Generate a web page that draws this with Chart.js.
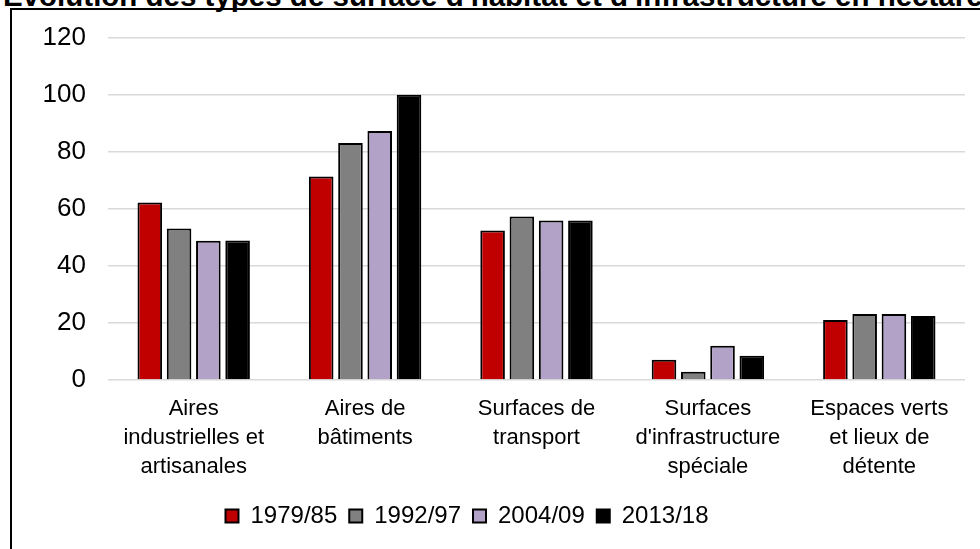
<!DOCTYPE html>
<html>
<head>
<meta charset="utf-8">
<script src="https://cdn.jsdelivr.net/npm/chart.js@4/dist/chart.umd.min.js"></script>
<style>
  body { margin: 0; background: #ffffff; overflow: hidden; }
  #page { position: relative; width: 980px; height: 549px; overflow: hidden; background: #ffffff; }
  #title { position: absolute; left: 3px; top: -19px; white-space: nowrap;
           font: bold 29.5px "Liberation Sans", Arial, sans-serif; line-height: 29px; color: #000; }
  #frame { position: absolute; left: 10px; top: 8px; width: 2000px; height: 2000px;
           border-top: 2px solid #000; border-left: 2px solid #000; }
  #chartbox { position: absolute; left: -31px; top: 0px; }
</style>
</head>
<body>
<div id="page">
  <div id="title">Evolution des types de surface d'habitat et d'infrastructure en hectares</div>
  <div id="frame"></div>
  <div id="chartbox"><canvas id="surfaceschart" width="996" height="549"></canvas></div>
</div>
<script>
var categories = [
  ["Aires", "industrielles et", "artisanales"],
  ["Aires de", "bâtiments"],
  ["Surfaces de", "transport"],
  ["Surfaces", "d'infrastructure", "spéciale"],
  ["Espaces verts", "et lieux de", "détente"]
];
var periods = ["1979/85", "1992/97", "2004/09", "2013/18"];
var values7985 = [62.2, 71.3, 52.4, 7.1, 21.0];
var values9297 = [53.1, 83.1, 57.3, 2.9, 23.1];
var values0409 = [48.8, 87.3, 55.9, 12.0, 23.1];
var values1318 = [48.9, 100, 55.9, 8.5, 22.4];
var colors = ["#C00000", "#808080", "#B3A2C7", "#000000"];

var seriesvalues = [values7985, values9297, values0409, values1318];
var datasets = [];
for (var i = 0; i < periods.length; i++) {
  datasets.push({
    label: periods[i],
    data: seriesvalues[i],
    backgroundColor: colors[i],
    borderColor: "#000000",
    borderWidth: 2,
    categoryPercentage: 0.683,
    barPercentage: 0.84
  });
}

var fontfamily = "'Liberation Sans', Arial, sans-serif";

var ctx = document.getElementById("surfaceschart").getContext("2d");
var surfaceschart = new Chart(ctx, {
  type: 'bar',
  data: { labels: categories, datasets: datasets },
  options: {
    responsive: false,
    animation: false,
    layout: { padding: { top: 36, right: 0, bottom: 11, left: 0 } },
    plugins: {
      tooltip: { enabled: false },
      legend: {
        position: 'bottom',
        labels: {
          boxWidth: 13,
          boxHeight: 13,
          padding: 12,
          color: "#000000",
          font: { family: fontfamily, size: 24 }
        }
      }
    },
    scales: {
      x: {
        grid: { display: false, drawTicks: false },
        border: { display: false },
        ticks: {
          color: "#000000",
          padding: 15,
          maxRotation: 0,
          autoSkip: false,
          font: { family: fontfamily, size: 22, lineHeight: 1.3 }
        },
        afterFit: function(scale) { scale.height = 112; }
      },
      y: {
        min: 0,
        max: 120,
        grid: { color: "#D9D9D9", lineWidth: 1.5, drawTicks: false },
        border: { display: false },
        ticks: {
          stepSize: 20,
          color: "#000000",
          padding: 22,
          font: { family: fontfamily, size: 26 }
        },
        afterFit: function(scale) { scale.width = 139; }
      }
    }
  }
});
</script>
</body>
</html>
